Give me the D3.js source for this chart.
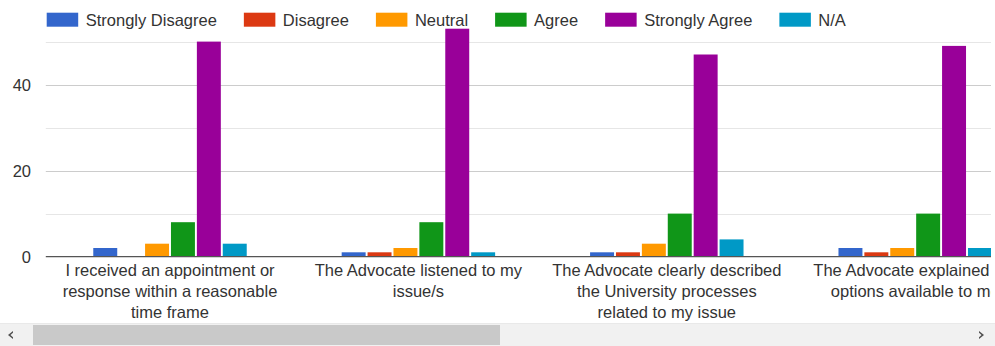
<!DOCTYPE html>
<html>
<head>
<meta charset="utf-8">
<script src="https://cdn.jsdelivr.net/npm/d3@7"></script>
<style>
  html, body { margin: 0; padding: 0; background: #fff; }
  svg { display: block; font-family: "Liberation Sans", Arial, sans-serif; }
</style>
</head>
<body>
<svg id="chart" width="995" height="346"></svg>
<script>
// Survey questions (one group of bars per question)
const categories = [
  "I received an appointment or response within a reasonable time frame",
  "The Advocate listened to my issue/s",
  "The Advocate clearly described the University processes related to my issue",
  "The Advocate explained the options available to me"
];

// Response counts per answer option, one value per question
const seriesNames = ["Strongly Disagree", "Disagree", "Neutral", "Agree", "Strongly Agree", "N/A"];
const stronglyDisagree = [2, 1, 1, 2];
const disagree         = [0, 1, 1, 1];
const neutral          = [3, 2, 3, 2];
const agree            = [8, 8, 10, 10];
const stronglyAgree    = [50, 53, 47, 49];
const notApplicable    = [3, 1, 4, 2];

const seriesColors = ["#3366cc", "#dc3912", "#ff9900", "#109618", "#990099", "#0099c6"];
const yTickLabels = [0, 20, 40];
const gridValues = [0, 10, 20, 30, 40, 50];

const seriesValues = [stronglyDisagree, disagree, neutral, agree, stronglyAgree, notApplicable];
const rows = categories.map((c, i) => ({
  category: c,
  values: seriesNames.map((s, k) => ({ series: s, value: seriesValues[k][i] }))
}));

const svg = d3.select("#chart");
const W = 995, H = 346;
const FONT = 16.5;
const TEXT = "#333";

// Plot geometry (the plot scrolls horizontally; only the first part is in view)
const plotLeft = 45.8, viewRight = 991;
const groupStep = 248.4;
const baseY = 256.6, tenPx = 43.0;

const y = d3.scaleLinear().domain([0, 50]).range([baseY, baseY - 5 * tenPx]);

const x0 = d3.scaleBand()
  .domain(categories)
  .range([plotLeft, plotLeft + groupStep * categories.length])
  .paddingInner(0.3744)
  .paddingOuter(0.1872);

const x1 = d3.scaleBand()
  .domain(seriesNames)
  .range([0, x0.bandwidth()])
  .paddingInner(0.075)
  .paddingOuter(0.0375);

const color = d3.scaleOrdinal().domain(seriesNames).range(seriesColors);

// clip for the scrolling viewport
svg.append("defs").append("clipPath").attr("id", "view")
  .append("rect").attr("x", plotLeft - 2).attr("y", 0)
  .attr("width", viewRight - plotLeft + 2).attr("height", 322);

const plot = svg.append("g").attr("clip-path", "url(#view)");

// gridlines
plot.append("g").selectAll("line")
  .data(gridValues.filter(v => v > 0))
  .join("line")
  .attr("x1", plotLeft).attr("x2", viewRight)
  .attr("y1", d => Math.round(y(d)) + 0.5).attr("y2", d => Math.round(y(d)) + 0.5)
  .attr("stroke", d => d % 20 === 0 ? "#cccccc" : "#e6e6e6")
  .attr("stroke-width", 1);

// bars
plot.append("g").selectAll("g")
  .data(rows)
  .join("g")
  .attr("transform", d => `translate(${x0(d.category)},0)`)
  .selectAll("rect")
  .data(d => d.values)
  .join("rect")
  .attr("x", d => x1(d.series))
  .attr("width", x1.bandwidth())
  .attr("y", d => y(d.value))
  .attr("height", d => y(0) - y(d.value))
  .attr("fill", d => color(d.series));

// baseline
plot.append("line")
  .attr("x1", plotLeft).attr("x2", viewRight)
  .attr("y1", y(0)).attr("y2", y(0))
  .attr("stroke", "#555").attr("stroke-width", 1.4);

// category labels, wrapped to a maximum width
const maxLabelWidth = 232;
const lineGap = 20.8;
const labels = plot.append("g").selectAll("text")
  .data(categories)
  .join("text")
  .attr("x", d => x0(d) + x0.bandwidth() / 2)
  .attr("y", 276)
  .attr("text-anchor", "middle")
  .attr("font-size", FONT)
  .attr("fill", TEXT);

labels.each(function (d) {
  const t = d3.select(this);
  const words = d.split(" ");
  let line = [];
  let lineNo = 0;
  let tspan = t.append("tspan").attr("x", t.attr("x")).attr("dy", 0);
  for (const w of words) {
    line.push(w);
    tspan.text(line.join(" "));
    if (tspan.node().getComputedTextLength() > maxLabelWidth && line.length > 1) {
      line.pop();
      tspan.text(line.join(" "));
      line = [w];
      lineNo++;
      tspan = t.append("tspan").attr("x", t.attr("x")).attr("dy", lineGap).text(w);
    }
  }
});

// y-axis tick labels
const yAxis = d3.axisLeft(y).tickValues(yTickLabels).tickSize(0).tickPadding(0);
const yg = svg.append("g").attr("transform", "translate(31,0)").call(yAxis);
yg.select(".domain").remove();
yg.selectAll("text")
  .attr("font-size", FONT)
  .attr("font-family", "Liberation Sans, Arial, sans-serif")
  .attr("fill", TEXT)
  .attr("dy", "0.35em");

// legend
const legend = svg.append("g").attr("transform", "translate(46.7,0)");
let lx = 0;
seriesNames.forEach((name, i) => {
  const item = legend.append("g").attr("transform", `translate(${lx},0)`);
  item.append("rect").attr("x", 0).attr("y", 12.7).attr("width", 31.5).attr("height", 14)
    .attr("fill", seriesColors[i]);
  const txt = item.append("text").attr("x", 39).attr("y", 20).attr("dy", "0.35em")
    .attr("font-size", FONT).attr("fill", TEXT).text(name);
  lx += 39 + txt.node().getComputedTextLength() + 27;
});

// horizontal scrollbar of the scrolling chart area
const sb = svg.append("g");
sb.append("rect").attr("x", 0).attr("y", 324).attr("width", W).attr("height", 22).attr("fill", "#f1f1f1");
sb.append("line").attr("x1", 0).attr("x2", W).attr("y1", 323.5).attr("y2", 323.5).attr("stroke", "#e9e9e9");
sb.append("rect").attr("x", 33).attr("y", 325).attr("width", 467).attr("height", 20).attr("fill", "#c9c9c9");
sb.append("path").attr("d", "M13,331 L8,335 L13,339 L13,337.3 L10.5,335 L13,332.7 Z").attr("fill", "#505050");
sb.append("path").attr("d", "M979,331 L984,335 L979,339 L979,337.3 L981.5,335 L979,332.7 Z").attr("fill", "#505050");
</script>
</body>
</html>
